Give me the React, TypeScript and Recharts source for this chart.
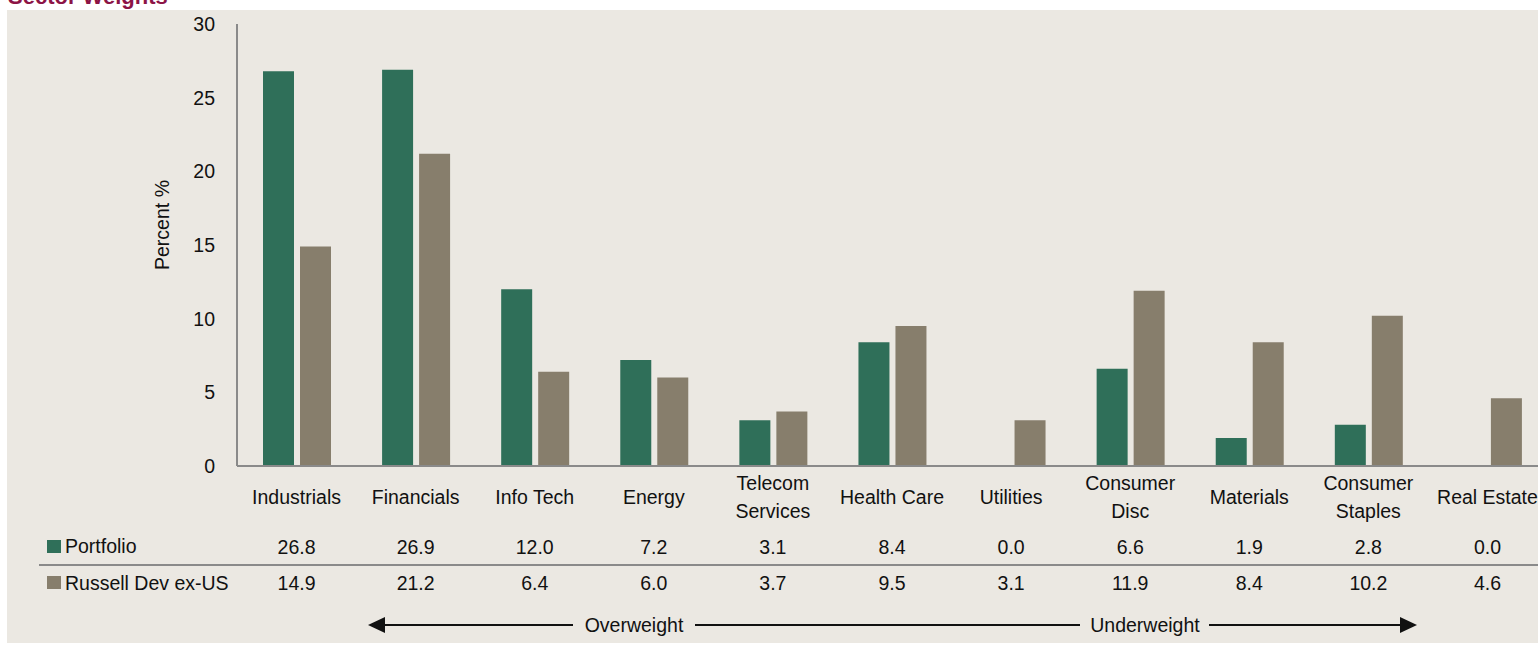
import React from 'react';
import { BarChart, Bar, XAxis, YAxis } from 'recharts';

// sector names, "\n" marks a two-line label
const sectors = [
  'Industrials',
  'Financials',
  'Info Tech',
  'Energy',
  'Telecom\nServices',
  'Health Care',
  'Utilities',
  'Consumer\nDisc',
  'Materials',
  'Consumer\nStaples',
  'Real Estate',
];
const portfolio = [26.8, 26.9, 12.0, 7.2, 3.1, 8.4, 0.0, 6.6, 1.9, 2.8, 0.0];
const russell = [14.9, 21.2, 6.4, 6.0, 3.7, 9.5, 3.1, 11.9, 8.4, 10.2, 4.6];
const yTicks = [0, 5, 10, 15, 20, 25, 30];

const seriesNames = ['Portfolio', 'Russell Dev ex-US'];
const GREEN = '#2f6f59';
const TAUPE = '#877e6c';
const AXIS = '#8a8a8a';
const FONT = '"Liberation Sans", Arial, sans-serif';
const FS = 19.5;

const data = sectors.map((s, i) => ({ sector: s, portfolio: portfolio[i], russell: russell[i] }));

function SectorTick(props: any) {
  const { x, y, payload } = props;
  const i = sectors.indexOf(payload.value);
  const lines: string[] = payload.value.split('\n');
  const common = { textAnchor: 'middle' as const, fontSize: FS, fontFamily: FONT, fill: '#111', dy: '0.35em' };
  return (
    <g>
      {lines.length === 1 ? (
        <text x={x} y={y + 31} {...common}>{lines[0]}</text>
      ) : (
        lines.map((l, k) => (
          <text key={k} x={x} y={y + 17 + k * 28} {...common}>{l}</text>
        ))
      )}
      <text x={x} y={y + 81} {...common}>{portfolio[i].toFixed(1)}</text>
      <text x={x} y={y + 117} {...common}>{russell[i].toFixed(1)}</text>
    </g>
  );
}

export default function App() {
  const txt = { fontSize: FS, fontFamily: FONT, fill: '#111' };
  return (
    <div style={{ position: 'absolute', left: 0, top: 0, width: 1538, height: 645, overflow: 'hidden', background: '#fff' }}>
      <div style={{ position: 'absolute', left: 7, top: 10, width: 1531, height: 633, background: '#ebe8e2' }} />
      <div style={{ position: 'absolute', left: 0, top: 0 }}>
        <BarChart
          width={1547}
          height={645}
          data={data}
          margin={{ top: 24, right: 0, bottom: 0, left: 0 }}
          barSize={31}
          barGap={6}
        >
          <YAxis
            width={237}
            domain={[0, 30]}
            ticks={yTicks}
            tickLine={false}
            tickSize={0}
            tickMargin={22}
            axisLine={{ stroke: AXIS, strokeWidth: 2 }}
            tick={{ fill: '#111', fontSize: FS, fontFamily: FONT }}
          />
          <XAxis
            dataKey="sector"
            height={179}
            interval={0}
            tickLine={false}
            tickSize={0}
            tickMargin={0}
            axisLine={{ stroke: AXIS, strokeWidth: 2 }}
            tick={<SectorTick />}
          />
          <Bar dataKey="portfolio" name={seriesNames[0]} fill={GREEN} isAnimationActive={false} />
          <Bar dataKey="russell" name={seriesNames[1]} fill={TAUPE} isAnimationActive={false} />
        </BarChart>
      </div>
      <svg width={1538} height={645} style={{ position: 'absolute', left: 0, top: 0, pointerEvents: 'none' }}>
        <text x={8} y={4} fontSize={22} fontWeight="bold" fontFamily={FONT} fill="#8c1446">Sector Weights</text>
        <text transform="translate(162,225) rotate(-90)" textAnchor="middle" dy="0.35em" {...txt}>Percent %</text>

        <rect x={47} y={540} width={14} height={13} fill={GREEN} />
        <text x={65} y={546} dy="0.35em" {...txt}>{seriesNames[0]}</text>
        <line x1={39} x2={1538} y1={565} y2={565} stroke={AXIS} strokeWidth={2} />
        <rect x={47} y={576} width={14} height={13} fill={TAUPE} />
        <text x={65} y={583} dy="0.35em" {...txt}>{seriesNames[1]}</text>

        <line x1={380} x2={573} y1={625} y2={625} stroke="#111" strokeWidth={2} />
        <polygon points="368,625 385,617 385,633" fill="#111" />
        <text x={634} y={625} dy="0.35em" textAnchor="middle" {...txt}>Overweight</text>
        <line x1={695} x2={1080} y1={625} y2={625} stroke="#111" strokeWidth={2} />
        <text x={1145} y={625} dy="0.35em" textAnchor="middle" {...txt}>Underweight</text>
        <line x1={1209} x2={1405} y1={625} y2={625} stroke="#111" strokeWidth={2} />
        <polygon points="1417,625 1400,617 1400,633" fill="#111" />
      </svg>
    </div>
  );
}
